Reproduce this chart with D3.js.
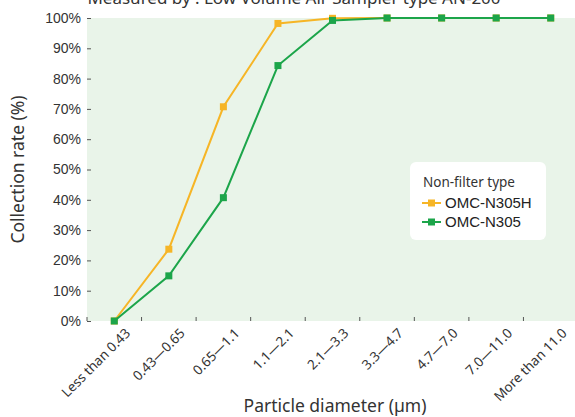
<!DOCTYPE html>
<html>
<head>
<meta charset="utf-8">
<script src="https://cdn.jsdelivr.net/npm/d3@7"></script>
<style>
    body { margin: 0; background: #fff; }
    svg { display: block; }
</style>
</head>
<body>
<div id="chart"></div>
<script>
// particle size classes (µm)
var categories = ['Less than 0.43', '0.43\u20140.65', '0.65\u20141.1', '1.1\u20142.1',
                  '2.1\u20143.3', '3.3\u20144.7', '4.7\u20147.0', '7.0\u201411.0',
                  'More than 11.0'];

// collection rate (%) per class
var rateN305H = [0, 23.7, 70.7, 98.2, 99.9, 100, 100, 100, 100];
var rateN305 = [0, 14.9, 40.7, 84.3, 99.2, 100, 100, 100, 100];

var yTicks = [0, 10, 20, 30, 40, 50, 60, 70, 80, 90, 100];

var series = [
    { name: 'OMC-N305H', values: rateN305H, color: '#f6b526' },
    { name: 'OMC-N305', values: rateN305, color: '#1ca54a' }
];

var width = 575,
    height = 417,
    margin = { top: 18, right: -3, bottom: 96, left: 87 };

var svg = d3.select('#chart').append('svg')
    .attr('width', width)
    .attr('height', height);

var x = d3.scaleBand()
    .domain(categories)
    .range([margin.left, width - margin.right]);

var y = d3.scaleLinear()
    .domain([0, 100])
    .range([height - margin.bottom, margin.top]);

function drawBackground() {
    /*
    This function draws the light green plot area.
    */
    svg.append('rect')
        .attr('x', x.range()[0])
        .attr('y', y(100))
        .attr('width', x.range()[1] - x.range()[0])
        .attr('height', y(0) - y(100))
        .attr('fill', '#e9f4e9');
}

function drawAxes() {
    /*
    This function draws both axes with short inward ticks.
    */
    var yAxis = svg.append('g')
        .attr('transform', 'translate(' + margin.left + ',0)')
        .call(d3.axisLeft(y).tickValues(yTicks).tickSizeInner(-4).tickSizeOuter(0)
            .tickPadding(6).tickFormat(function(d) { return d + '%'; }));
    yAxis.select('.domain').remove();
    yAxis.selectAll('.tick line').attr('stroke', '#555');
    yAxis.selectAll('.tick text')
        .attr('fill', '#333')
        .style('font-family', '"Liberation Sans", Arial, sans-serif')
        .style('font-size', '14px');

    // tick marks sit on the band edges
    var edges = categories.map(function(c) { return x(c); });
    svg.append('g').selectAll('line')
        .data(edges)
        .join('line')
        .attr('x1', function(d) { return d; })
        .attr('x2', function(d) { return d; })
        .attr('y1', y(0) - 4)
        .attr('y2', y(0))
        .attr('stroke', '#555');

    // rotated category labels
    svg.append('g').selectAll('text')
        .data(categories)
        .join('text')
        .attr('transform', function(d) {
            return 'translate(' + (x(d) + x.bandwidth() / 2 + 17) + ',' + (y(0) + 13) + ') rotate(-45)';
        })
        .attr('text-anchor', 'end')
        .attr('fill', '#333')
        .style('font-family', '"Noto Sans", sans-serif')
        .style('font-size', '13.5px')
        .text(function(d) { return d; });
}

function drawLines() {
    /*
    This function draws one line with square markers per series.
    */
    var line = d3.line()
        .x(function(d, i) { return x(categories[i]) + x.bandwidth() / 2; })
        .y(function(d) { return y(d); });

    series.forEach(function(s) {
        var g = svg.append('g');
        g.append('path')
            .attr('d', line(s.values))
            .attr('fill', 'none')
            .attr('stroke', s.color)
            .attr('stroke-width', 2);
        g.selectAll('rect')
            .data(s.values)
            .join('rect')
            .attr('x', function(d, i) { return x(categories[i]) + x.bandwidth() / 2 - 3.5; })
            .attr('y', function(d) { return y(d) - 3.5; })
            .attr('width', 7)
            .attr('height', 7)
            .attr('fill', s.color);
    });
}

function drawLegend() {
    /*
    This function draws the white legend box.
    */
    var lg = svg.append('g').attr('transform', 'translate(410,162)');
    lg.append('rect')
        .attr('width', 136)
        .attr('height', 78)
        .attr('rx', 6)
        .attr('fill', '#fff');
    lg.append('text')
        .attr('x', 13)
        .attr('y', 25)
        .attr('fill', '#333')
        .style('font-family', '"Noto Sans", sans-serif')
        .style('font-size', '13.5px')
        .text('Non-filter type');

    series.forEach(function(s, i) {
        var yy = 41 + i * 19;
        lg.append('line')
            .attr('x1', 12).attr('x2', 31)
            .attr('y1', yy).attr('y2', yy)
            .attr('stroke', s.color)
            .attr('stroke-width', 2);
        lg.append('rect')
            .attr('x', 18).attr('y', yy - 3.5)
            .attr('width', 7).attr('height', 7)
            .attr('fill', s.color);
        lg.append('text')
            .attr('x', 35)
            .attr('y', yy + 5)
            .attr('fill', '#222')
            .style('font-family', '"Liberation Sans", Arial, sans-serif')
            .style('font-size', '15px')
            .text(s.name);
    });
}

function drawTitles() {
    /*
    This function adds the chart title and axis titles.
    */
    svg.append('text')
        .attr('x', 294)
        .attr('y', 4)
        .attr('text-anchor', 'middle')
        .attr('fill', '#333')
        .style('font-family', '"Noto Sans", sans-serif')
        .style('font-size', '17px')
        .text('Measured by : Low Volume Air Sampler type AN-200');

    svg.append('text')
        .attr('x', 335)
        .attr('y', 412)
        .attr('text-anchor', 'middle')
        .attr('fill', '#333')
        .style('font-family', '"Noto Sans", sans-serif')
        .style('font-size', '17.5px')
        .text('Particle diameter (\u00b5m)');

    svg.append('text')
        .attr('transform', 'translate(24,' + ((y(0) + y(100)) / 2) + ') rotate(-90)')
        .attr('text-anchor', 'middle')
        .attr('fill', '#333')
        .style('font-family', '"Noto Sans", sans-serif')
        .style('font-size', '17.5px')
        .text('Collection rate (%)');
}

drawBackground();
drawAxes();
drawLines();
drawLegend();
drawTitles();
</script>
</body>
</html>
